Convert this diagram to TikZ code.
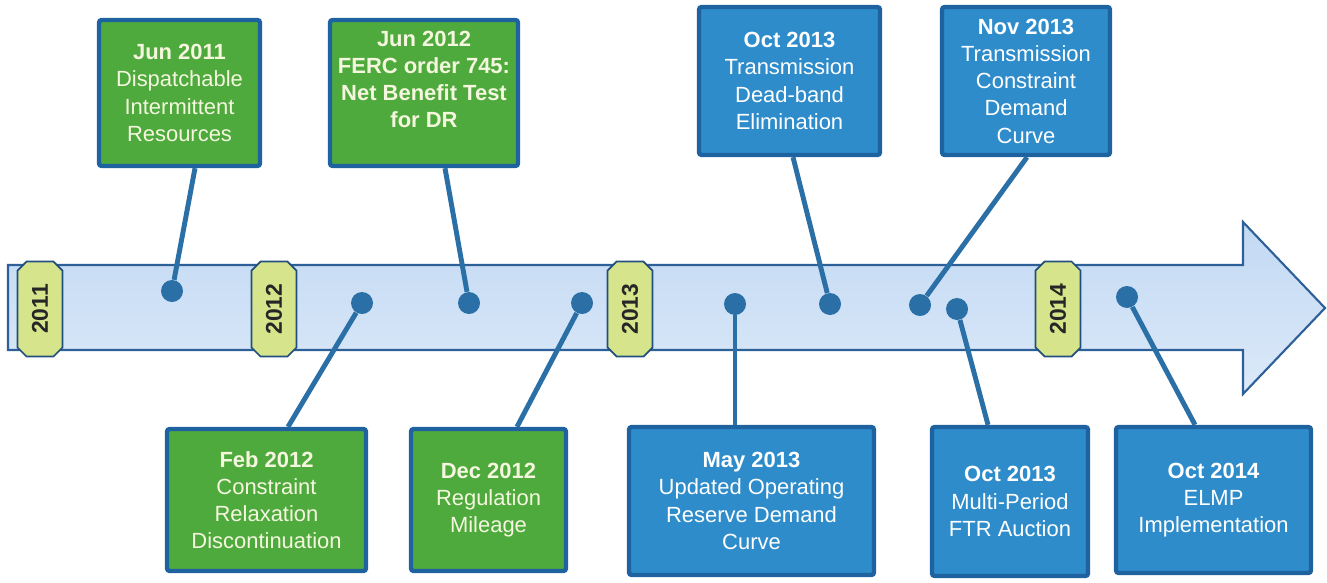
\documentclass[tikz,border=0pt]{standalone}
\usepackage{fontspec}
\setmainfont{Liberation Sans}
\usetikzlibrary{shapes.misc,calc}

\definecolor{evgreen}{HTML}{4FAA3E}
\definecolor{evblue}{HTML}{2E8CCB}
\definecolor{evborder}{HTML}{1E63A0}
\definecolor{evtext}{HTML}{F4F7DE}
\definecolor{stemblue}{HTML}{2A6FA6}
\definecolor{tagfill}{HTML}{D6E48B}
\definecolor{tagline}{HTML}{22507E}
\definecolor{arrowtop}{HTML}{C2D9F3}
\definecolor{arrowbottom}{HTML}{DCE9F9}
\definecolor{arrowline}{HTML}{2D5F98}

\begin{document}
\begin{tikzpicture}[x=0.02cm,y=-0.02cm]
    \tikzstyle{event}=[rectangle,draw=evborder,line width=2.5pt,rounded corners=1.5pt,align=center,inner sep=0pt,font=\fontsize{12.5}{15.5}\selectfont]
    \tikzstyle{early event}=[event,fill=evgreen,text=evtext];
    \tikzstyle{late event}=[event,fill=evblue,text=white];
    \tikzstyle{year tag}=[chamfered rectangle,chamfered rectangle sep=0.09cm,rotate=90,draw=tagline,line width=1pt,fill=tagfill,text=black!85,minimum width=1.9cm,minimum height=0.9cm,inner sep=0pt,font=\bfseries\fontsize{13}{15}\selectfont]
    \tikzstyle{dot}=[circle,fill=stemblue,minimum size=0.44cm,inner sep=0pt]
    \tikzstyle{stem}=[draw=stemblue,line width=2.8pt]

    \useasboundingbox (0,0) rectangle (1327,582);

    % Draw the time line arrow
    \draw[draw=arrowline,line width=1.2pt,top color=arrowtop,bottom color=arrowbottom]
        (8,265) -- (1243,265) -- (1243,222) -- (1325,308) -- (1243,394) -- (1243,350) -- (8,350) -- cycle;

    % Draw the year tags
    \foreach \yr / \x in {2011/40,2012/274,2013/630,2014/1058}
        \node[year tag] (Y-\yr) at (\x,309) {\yr};

    % Draw the events above the line
    \node[early event,minimum width=3.22cm,minimum height=2.92cm] (E-1) at (179.5,93) {\textbf{Jun 2011}\\Dispatchable\\Intermittent\\Resources};
    \node[early event,minimum width=3.76cm,minimum height=2.92cm] (E-3) at (424,93) {\textbf{Jun 2012}\\\textbf{FERC order 745:}\\\textbf{Net Benefit Test}\\\textbf{for DR}\\\mbox{}};
    \node[late event,minimum width=3.62cm,minimum height=2.96cm] (E-6) at (789.5,81) {\textbf{Oct 2013}\\Transmission\\Dead-band\\Elimination};
    \node[late event,minimum width=3.36cm,minimum height=2.96cm] (E-7) at (1026,81) {\textbf{Nov 2013}\\Transmission\\Constraint\\Demand\\Curve};

    % Draw the events below the line
    \node[early event,minimum width=3.98cm,minimum height=2.84cm] (E-2) at (266.5,500) {\textbf{Feb 2012}\\Constraint\\Relaxation\\Discontinuation};
    \node[early event,minimum width=3.1cm,minimum height=2.84cm] (E-4) at (488.5,500) {\textbf{Dec 2012}\\Regulation\\Mileage};
    \node[late event,minimum width=4.9cm,minimum height=2.96cm] (E-5) at (751.5,501) {\textbf{May 2013}\\Updated Operating\\Reserve Demand\\Curve};
    \node[late event,minimum width=3.12cm,minimum height=2.98cm] (E-8) at (1010,501.5) {\textbf{Oct 2013}\\Multi-Period\\FTR Auction};
    \node[late event,minimum width=3.9cm,minimum height=2.92cm] (E-9) at (1213.5,500) {\textbf{Oct 2014}\\ELMP\\Implementation};

    % Draw the dots on the time line
    \foreach \name / \x / \y in {1/172/291,2/362/303,3/469/303,4/582/303,5/735/304,6/830/304,7/920/305,8/957/309,9/1127/297}
        \node[dot] (D-\name) at (\x,\y) {};

    % Connect every dot with its event
    \foreach \name / \side / \off in {1/south/15.5,3/south/21,6/south/3.5,7/south/1,2/north/21.5,4/north/28.5,5/north/-16.5,8/north/-22,9/north/-18.5}
        \path[stem] (D-\name) -- ($(E-\name.\side)+(\off,0)$);
\end{tikzpicture}
\end{document}
